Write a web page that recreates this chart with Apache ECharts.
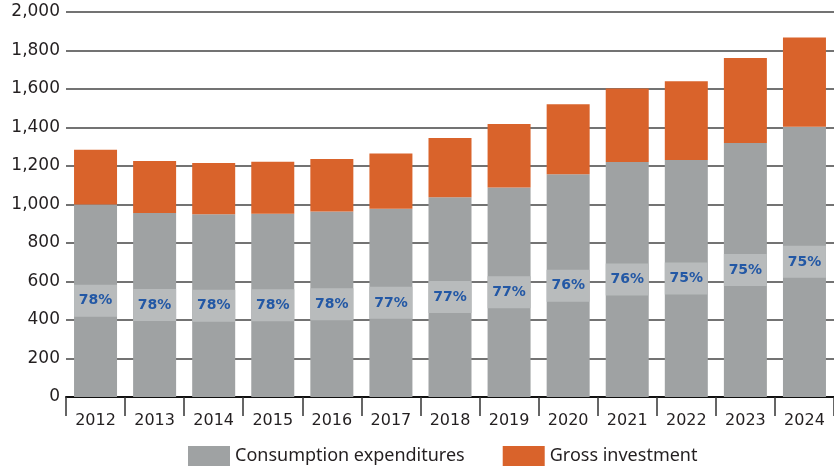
<!DOCTYPE html>
<html>
<head>
<meta charset="utf-8">
<script src="https://cdn.jsdelivr.net/npm/echarts@6/dist/echarts.min.js"></script>
<style>
  html, body { margin: 0; padding: 0; background: #fff; }
  #chart { width: 834px; height: 470px; }
</style>
</head>
<body>
<div id="chart"></div>
<script>
  // Values
  const years = ['2012', '2013', '2014', '2015', '2016', '2017', '2018', '2019', '2020', '2021', '2022', '2023', '2024'];
  const consumption = [1000, 956, 949, 952, 963, 978, 1038, 1088, 1157, 1221, 1231, 1320, 1404];
  const investment = [285, 270, 267, 270, 274, 287, 307, 330, 364, 381, 409, 441, 463];
  const shareLabels = ['78%', '78%', '78%', '78%', '78%', '77%', '77%', '77%', '76%', '76%', '75%', '75%', '75%'];

  const THEME = {
    gray: '#9fa2a3',
    band: '#b8bbbc',
    orange: '#d9632b',
    blue: '#2358a5',
    text: '#231f20',
    grid: '#444444',
  };

  const chart = echarts.init(document.getElementById('chart'));

  chart.setOption({
    animation: false,
    grid: { left: 66, right: 0, top: 12, bottom: 73 },
    legend: {
      left: 188,
      top: 446,
      padding: 0,
      itemWidth: 42,
      itemHeight: 20,
      itemGap: 38,
      icon: 'rect',
      textStyle: { color: THEME.text, fontSize: 18, fontFamily: '"Noto Sans", sans-serif' },
      data: ['Consumption expenditures', 'Gross investment'],
    },
    xAxis: {
      type: 'category',
      data: years,
      axisLine: { lineStyle: { color: '#111', width: 2 } },
      axisTick: { show: true, length: 19, lineStyle: { color: '#333', width: 1.5 } },
      axisLabel: { color: THEME.text, fontSize: 16, margin: 16, fontFamily: '"DejaVu Sans", sans-serif' },
    },
    yAxis: {
      type: 'value',
      min: 0,
      max: 2000,
      interval: 200,
      axisLine: { show: false },
      axisTick: { show: false },
      axisLabel: {
        color: THEME.text,
        fontSize: 17,
        margin: 6,
        fontFamily: '"DejaVu Sans", sans-serif',
        formatter: v => v.toLocaleString('en-US'),
      },
      splitLine: { lineStyle: { color: THEME.grid, width: 1.5 } },
    },
    series: [
      {
        name: 'Consumption expenditures',
        type: 'bar',
        stack: 'total',
        barWidth: 43,
        data: consumption,
        itemStyle: { color: THEME.gray },
        label: {
          show: true,
          position: 'inside',
          formatter: p => shareLabels[p.dataIndex],
          backgroundColor: THEME.band,
          width: 43,
          height: 32,
          lineHeight: 32,
          align: 'center',
          verticalAlign: 'middle',
          color: THEME.blue,
          fontWeight: 'bold',
          fontSize: 14,
          fontFamily: '"DejaVu Sans", sans-serif',
        },
      },
      {
        name: 'Gross investment',
        type: 'bar',
        stack: 'total',
        barWidth: 43,
        data: investment,
        itemStyle: { color: THEME.orange },
      },
    ],
  });
</script>
</body>
</html>
